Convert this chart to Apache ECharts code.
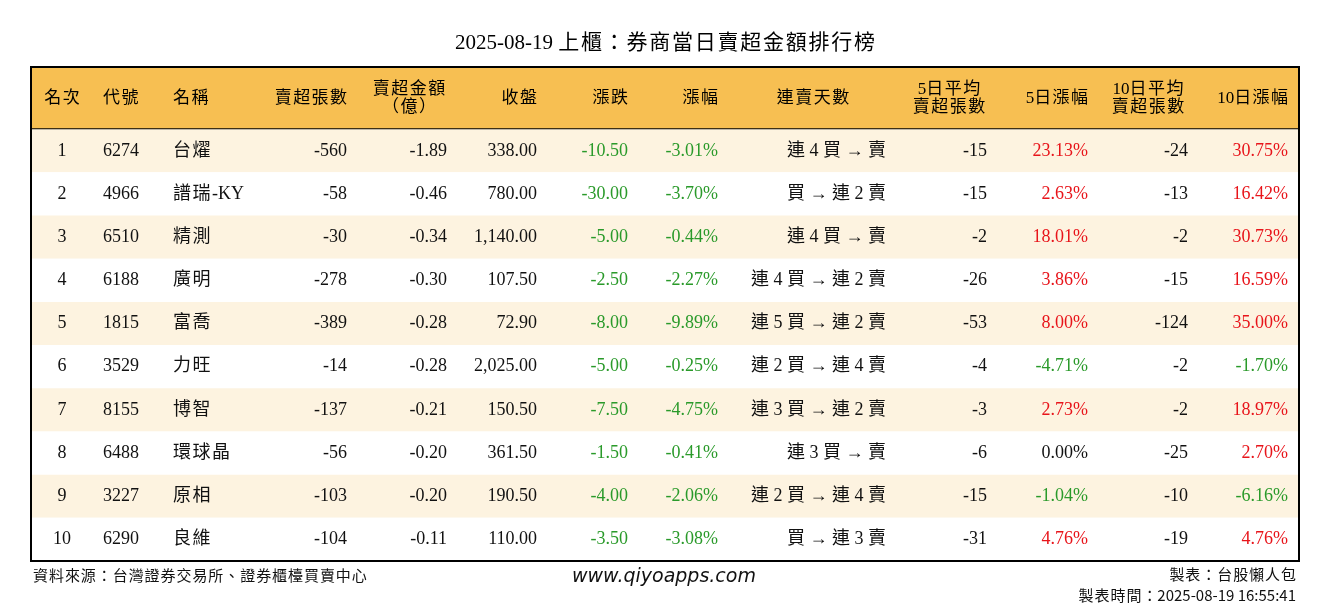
<!DOCTYPE html>
<html><head><meta charset="utf-8">
<script src="https://cdn.jsdelivr.net/npm/echarts@6/dist/echarts.min.js"></script>
<style>html,body{margin:0;padding:0;background:#fff}#c{width:1330px;height:612px}</style>
</head><body><div id="c"></div>
<script>
const ranks=[1,2,3,4,5,6,7,8,9,10];
const codes=['6274','4966','6510','6188','1815','3529','8155','6488','3227','6290'];
const names=['台燿','譜瑞-KY','精測','廣明','富喬','力旺','博智','環球晶','原相','良維'];
const netShares=[-560,-58,-30,-278,-389,-14,-137,-56,-103,-104];
const netAmount=[-1.89,-0.46,-0.34,-0.30,-0.28,-0.28,-0.21,-0.20,-0.20,-0.11];
const closes=[338.00,780.00,1140.00,107.50,72.90,2025.00,150.50,361.50,190.50,110.00];
const changes=[-10.50,-30.00,-5.00,-2.50,-8.00,-5.00,-7.50,-1.50,-4.00,-3.50];
const pctChanges=[-3.01,-3.70,-0.44,-2.27,-9.89,-0.25,-4.75,-0.41,-2.06,-3.08];
const streaks=['連 4 買 → 賣','買 → 連 2 賣','連 4 買 → 賣','連 4 買 → 連 2 賣','連 5 買 → 連 2 賣','連 2 買 → 連 4 賣','連 3 買 → 連 2 賣','連 3 買 → 賣','連 2 買 → 連 4 賣','買 → 連 3 賣'];
const avg5=[-15,-15,-2,-26,-53,-4,-3,-6,-15,-31];
const pct5=[23.13,2.63,18.01,3.86,8.00,-4.71,2.73,0.00,-1.04,4.76];
const avg10=[-24,-13,-2,-15,-124,-2,-2,-25,-10,-19];
const pct10=[30.75,16.42,30.73,16.59,35.00,-1.70,18.97,2.70,-6.16,4.76];
const headers=['名次','代號','名稱','賣超張數','賣超金額\n（億）','收盤','漲跌','漲幅','連賣天數','5日平均\n賣超張數','5日漲幅','10日平均\n賣超張數','10日漲幅'];

const FONT='"Liberation Serif","Noto Sans CJK TC",serif';
const GREEN='#2a9a2a', RED='#e8141a', BLACK='#111';
const fmt=(v,d)=>v.toLocaleString('en-US',{minimumFractionDigits:d,maximumFractionDigits:d});
const col=v=>v>0?RED:(v<0?GREEN:BLACK);
// widen CJK glyph spacing like the reference
const sp=s=>s.replace(/([\u2E80-\uFFEF])(?=[^\n])/g,'$1\u200A');
const cols=[[31,'center'],[72,'left'],[142,'left'],[316,'right'],[416,'right'],[506,'right'],[597,'right'],[687,'right'],[855,'right'],[956,'right'],[1057,'right'],[1157,'right'],[1257,'right']];
const hcols=[[31,'center'],[72,'left'],[142,'left'],[316,'right'],[378,'center'],[506,'right'],[597,'right'],[687,'right'],[782,'center'],[918,'center'],[1057,'right'],[1117,'center'],[1257,'right']];

function rowCells(i){
  return [
    [String(ranks[i]),BLACK],[codes[i],BLACK],[sp(names[i]),BLACK],
    [fmt(netShares[i],0),BLACK],[fmt(netAmount[i],2),BLACK],[fmt(closes[i],2),BLACK],
    [fmt(changes[i],2),col(changes[i])],[fmt(pctChanges[i],2)+'%',col(pctChanges[i])],
    [streaks[i],BLACK],[String(avg5[i]),BLACK],[fmt(pct5[i],2)+'%',col(pct5[i])],
    [String(avg10[i]),BLACK],[fmt(pct10[i],2)+'%',col(pct10[i])]
  ];
}
const HEAD=-1.44;
const chart=echarts.init(document.getElementById('c'));
chart.setOption({
  animation:false,
  title:{text:sp('2025-08-19 上櫃：券商當日賣超金額排行榜'),left:'center',top:28,
    textStyle:{fontFamily:FONT,fontSize:21,fontWeight:'normal',color:'#000'}},
  grid:{left:31,right:31,top:67,bottom:51},
  xAxis:{type:'value',min:0,max:1268,show:false},
  yAxis:{type:'value',min:HEAD,max:10,inverse:true,show:false},
  series:[{
    type:'custom',
    data:[[-1]].concat(ranks.map((r,i)=>[i])),
    renderItem:function(params,api){
      const idx=api.value(0);
      const X=v=>api.coord([v,0])[0];
      const y0=api.coord([0,idx<0?HEAD:idx])[1], y1=api.coord([0,idx<0?0:idx+1])[1];
      const x0=X(0), x1=X(1268);
      const ch=[];
      if(idx<0){
        ch.push({type:'rect',shape:{x:x0,y:y0,width:x1-x0,height:y1-y0},style:{fill:'#f7bf52'}});
        ch.push({type:'line',shape:{x1:x0,y1:y1,x2:x1,y2:y1},style:{stroke:'#000',lineWidth:2}});
        headers.forEach((h,k)=>{
          ch.push({type:'text',x:X(hcols[k][0]),y:(y0+y1)/2,style:{text:sp(h),fill:'#000',
            font:'17px '+FONT,align:hcols[k][1],verticalAlign:'middle',lineHeight:18}});
        });
      } else {
        ch.push({type:'rect',shape:{x:x0,y:y0,width:x1-x0,height:y1-y0},style:{fill:idx%2===0?'#fdf3e0':'#ffffff'}});
        rowCells(idx).forEach((c,k)=>{
          ch.push({type:'text',x:X(cols[k][0]),y:(y0+y1)/2,style:{text:c[0],fill:c[1],
            font:'18px '+FONT,align:cols[k][1],verticalAlign:'middle'}});
        });
      }
      return {type:'group',children:ch};
    },
    z:2
  },{
    type:'custom',data:[[0]],z:3,
    renderItem:function(params,api){
      const a=api.coord([0,HEAD]), b=api.coord([1268,10]);
      return {type:'rect',shape:{x:a[0],y:a[1],width:b[0]-a[0],height:b[1]-a[1]},
        style:{fill:'none',stroke:'#000',lineWidth:2}};
    }
  }],
  graphic:[
    {type:'text',left:33,top:568,style:{text:sp('資料來源：台灣證券交易所、證券櫃檯買賣中心'),font:'15px "Noto Sans CJK TC"',fill:'#111'}},
    {type:'text',left:572,top:568,style:{text:'www.qiyoapps.com',font:'italic 19px "DejaVu Sans"',fill:'#111'}},
    {type:'text',right:34,top:567,style:{text:sp('製表：台股懶人包'),font:'15px "Noto Sans CJK TC"',fill:'#111'}},
    {type:'text',right:34,top:588,style:{text:sp('製表時間：')+'2025-08-19 16:55:41',font:'15px "Noto Sans CJK TC"',fill:'#111'}}
  ]
});
</script></body></html>
